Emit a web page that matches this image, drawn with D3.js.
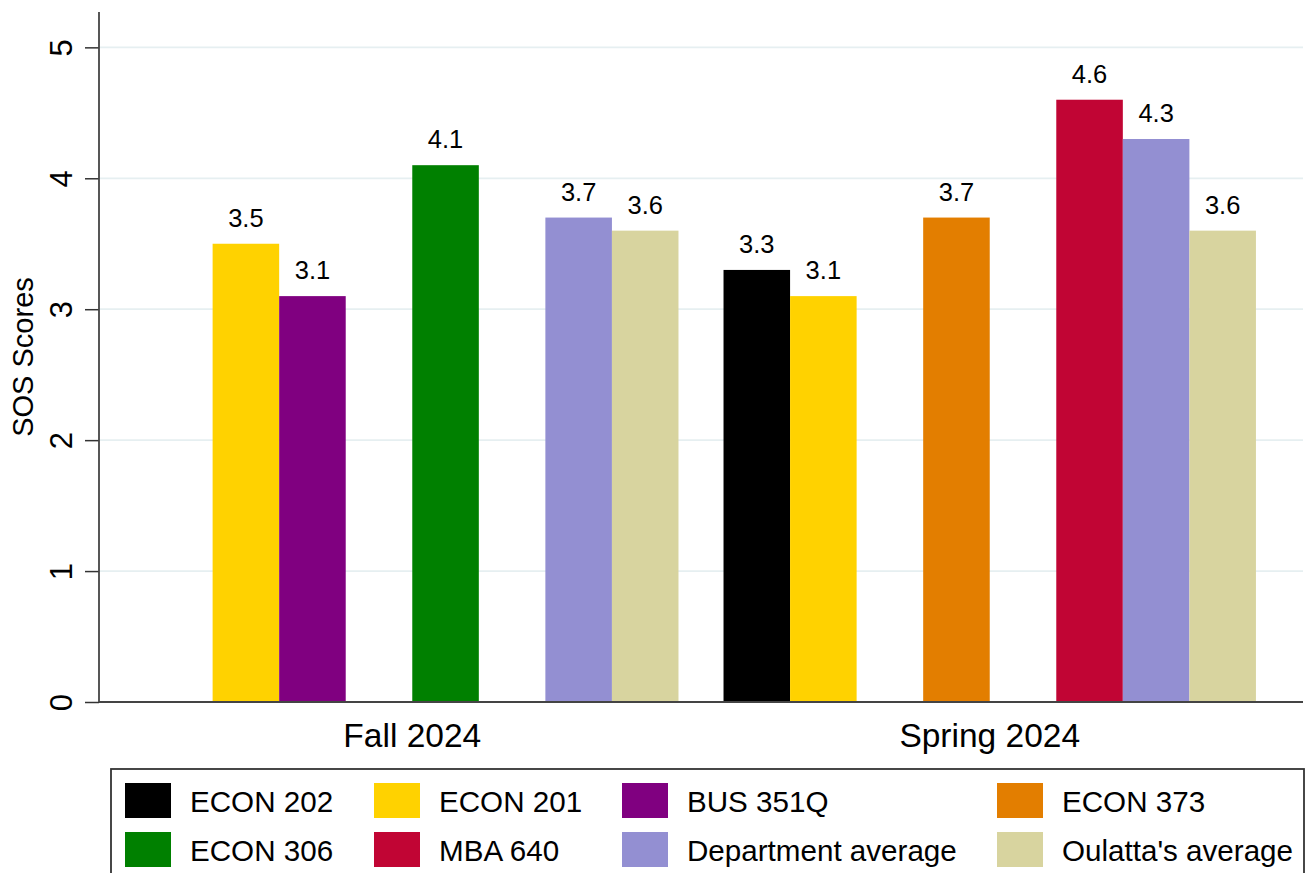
<!DOCTYPE html>
<html>
<head>
<meta charset="utf-8">
<script src="https://cdn.jsdelivr.net/npm/d3@7.9.0/dist/d3.min.js"></script>
<style>
  body { margin: 0; background: #fff; }
  svg { display: block; font-family: "Liberation Sans", Arial, sans-serif; }
</style>
</head>
<body>
<div id="chart"></div>
<script>
// terms and courses
const terms = ['Fall 2024', 'Spring 2024'];
const courses = ['ECON 202', 'ECON 201', 'BUS 351Q', 'ECON 373', 'ECON 306', 'MBA 640', 'Department average', "Oulatta's average"];
const courseColors = ['#000000', '#FFD200', '#800080', '#E37E00', '#008000', '#C10534', '#938FD2', '#D8D49F'];

// scores per course, in term order (null = not taught)
const fallScores = [null, 3.5, 3.1, null, 4.1, null, 3.7, 3.6];
const springScores = [3.3, 3.1, null, 3.7, null, 4.6, 4.3, 3.6];
const yTicks = [0, 1, 2, 3, 4, 5];

const rows = [];
[fallScores, springScores].forEach((vals, i) => {
  vals.forEach((v, j) => {
    if (v != null) rows.push({ term: terms[i], course: courses[j], value: v });
  });
});

const width = 1313, height = 873;
const plot = { left: 99, right: 1303, top: 12, bottom: 702 };

const svg = d3.select('#chart').append('svg')
  .attr('width', width)
  .attr('height', height);

const x0 = d3.scaleBand()
  .domain(terms)
  .range([plot.left, plot.right])
  .paddingInner(0.078)
  .paddingOuter(0.0815);

const x1 = d3.scaleBand()
  .domain(courses)
  .range([0, x0.bandwidth()]);

const y = d3.scaleLinear()
  .domain([0, 5.27])
  .range([plot.bottom, plot.top]);

const color = d3.scaleOrdinal().domain(courses).range(courseColors);

// gridlines
svg.append('g')
  .selectAll('line')
  .data(yTicks.filter(d => d > 0))
  .join('line')
  .attr('x1', plot.left)
  .attr('x2', plot.right)
  .attr('y1', d => y(d))
  .attr('y2', d => y(d))
  .attr('stroke', '#E6EFF1')
  .attr('stroke-width', 1.8);

// bars
svg.append('g')
  .selectAll('rect')
  .data(rows)
  .join('rect')
  .attr('x', d => x0(d.term) + x1(d.course))
  .attr('y', d => y(d.value))
  .attr('width', x1.bandwidth())
  .attr('height', d => y(0) - y(d.value))
  .attr('fill', d => color(d.course));

// value labels
svg.append('g')
  .selectAll('text')
  .data(rows)
  .join('text')
  .attr('x', d => x0(d.term) + x1(d.course) + x1.bandwidth() / 2)
  .attr('y', d => y(d.value) - 17)
  .attr('text-anchor', 'middle')
  .attr('font-size', 25.5)
  .attr('fill', '#000')
  .text(d => d.value.toFixed(1));

// y axis
const yAxis = svg.append('g')
  .attr('transform', `translate(${plot.left},0)`)
  .call(d3.axisLeft(y).tickValues(yTicks).tickSize(14).tickPadding(0).tickFormat(d3.format('d')));
yAxis.select('.domain').remove();
yAxis.selectAll('.tick line').attr('stroke', '#333').attr('stroke-width', 1.5);
yAxis.selectAll('.tick text')
  .attr('x', 0)
  .attr('dy', null)
  .attr('font-size', 31)
  .attr('fill', '#000')
  .attr('text-anchor', 'middle')
  .attr('transform', 'translate(-27,0) rotate(-90)');

svg.append('line')
  .attr('x1', plot.left).attr('x2', plot.left)
  .attr('y1', plot.top).attr('y2', plot.bottom)
  .attr('stroke', '#444').attr('stroke-width', 1.8);

// x axis
svg.append('line')
  .attr('x1', plot.left).attr('x2', plot.right)
  .attr('y1', plot.bottom).attr('y2', plot.bottom)
  .attr('stroke', '#444').attr('stroke-width', 1.8);

svg.append('g')
  .selectAll('text')
  .data(terms)
  .join('text')
  .attr('x', d => x0(d) + x0.bandwidth() / 2)
  .attr('y', 747)
  .attr('text-anchor', 'middle')
  .attr('font-size', 33.5)
  .text(d => d);

// y title
svg.append('text')
  .attr('transform', `translate(33,${(plot.top + plot.bottom) / 2}) rotate(-90)`)
  .attr('text-anchor', 'middle')
  .attr('font-size', 29)
  .text('SOS Scores');

// legend
const legend = svg.append('g');
legend.append('rect')
  .attr('x', 111).attr('y', 769)
  .attr('width', 1304 - 111).attr('height', 120)
  .attr('fill', 'none')
  .attr('stroke', '#333')
  .attr('stroke-width', 1.8);

const colX = [125, 374, 622, 997];
const items = legend.selectAll('g.item')
  .data(courses)
  .join('g')
  .attr('class', 'item')
  .attr('transform', (d, i) => `translate(${colX[i % 4]},${783 + Math.floor(i / 4) * 49})`);

items.append('rect')
  .attr('width', 46)
  .attr('height', 35)
  .attr('fill', d => color(d));

items.append('text')
  .attr('x', 65)
  .attr('y', 29)
  .attr('font-size', 29.6)
  .text(d => d);
</script>
</body>
</html>
